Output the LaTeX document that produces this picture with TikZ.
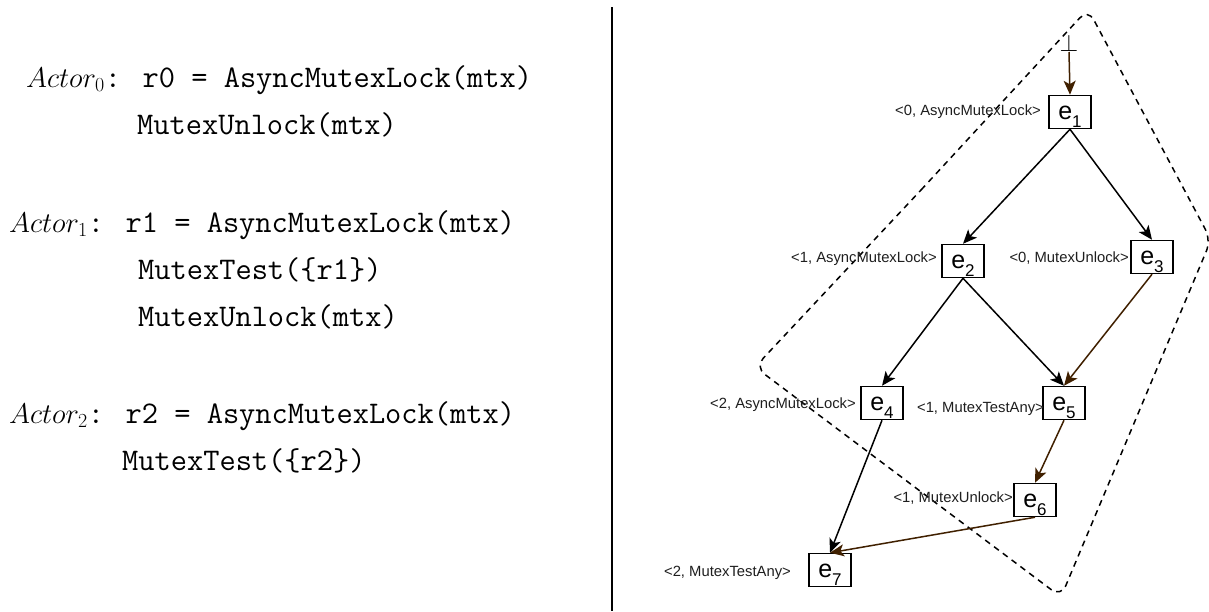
\RequirePackage{fix-cm}
\documentclass[tikz,border=0pt]{standalone}
\usepackage{fontspec}
\newfontfamily\labfamily{Liberation Sans}
\usetikzlibrary{arrows.meta}
\definecolor{brownc}{RGB}{64,32,0}
\definecolor{labc}{RGB}{30,30,30}
\newcommand\codefont{\fontsize{31.5}{38}\selectfont}
\newcommand\actorname[1]{{\fontsize{28.5}{38}\selectfont$Actor_{#1}$}}
\newcommand\labfont{\labfamily\fontsize{14.8}{16}\selectfont}
\newcommand\evfont{\labfamily\fontsize{25}{25}\selectfont}
\newcommand\evtext[1]{e\raisebox{-8pt}{\fontsize{17}{17}\selectfont #1}}
\begin{document}
\begin{tikzpicture}[x=1pt,y=-1pt,
  ev/.style={draw=black, line width=1.5pt, fill=white, minimum width=42pt,
    minimum height=33pt, inner sep=0pt, text height=22pt, text depth=8pt, font=\evfont},
  lab/.style={font=\labfont, inner sep=0pt, anchor=base east, text=labc},
  code/.style={inner sep=0pt, anchor=base west, font=\codefont},
  arr/.style={-{Stealth[length=14pt,width=12pt,inset=3.5pt]}, line width=1.5pt, draw=black},
  brarr/.style={arr, draw=brownc},
  hullline/.style={draw=black, line width=1.5pt, dash pattern=on 6pt off 5pt, rounded corners=12pt},
  divline/.style={draw=black, line width=2.5pt}]
\useasboundingbox (0,0) rectangle (1209,611);

% left code text
\node[code] (t1) at (26,87) {\actorname{0}\texttt{: r0 = AsyncMutexLock(mtx)}};
\node[code] (t2) at (137,134) {\texttt{MutexUnlock(mtx)}};
\node[code] (t3) at (9,232) {\actorname{1}\texttt{: r1 = AsyncMutexLock(mtx)}};
\node[code] (t4) at (138,279) {\texttt{MutexTest(\{r1\})}};
\node[code] (t5) at (138,326) {\texttt{MutexUnlock(mtx)}};
\node[code] (t6) at (9,423) {\actorname{2}\texttt{: r2 = AsyncMutexLock(mtx)}};
\node[code] (t7) at (122,470) {\texttt{MutexTest(\{r2\})}};

% divider
\coordinate (dtop) at (612,7);
\coordinate (dbot) at (612,611);
\draw[divline] (dtop) -- (dbot);

% hull
\coordinate (hs) at (921,190);
\coordinate (htop) at (1088,9);
\coordinate (hright) at (1211,240);
\coordinate (hbottom) at (1061,597);
\coordinate (hleft) at (755,367);
\draw[hullline] (hs) -- (htop) -- (hright) -- (hbottom) -- (hleft) -- (hs);

% events
\node[ev] (e1) at (1070,112) {\evtext{1}};
\node[ev] (e2) at (963,261) {\evtext{2}};
\node[ev] (e3) at (1152,257) {\evtext{3}};
\node[ev] (e4) at (882,403) {\evtext{4}};
\node[ev] (e5) at (1064,403) {\evtext{5}};
\node[ev] (e6) at (1035,500) {\evtext{6}};
\node[ev] (e7) at (830,570) {\evtext{7}};

\node[inner sep=0pt, anchor=south, font=\fontsize{24}{24}\selectfont] (bot) at (1069,52) {$\bot$};

% labels
\node[lab] (l1) at (1041,115) {<0, AsyncMutexLock>};
\node[lab] (l2) at (937,262) {<1, AsyncMutexLock>};
\node[lab] (l3) at (1129,262) {<0, MutexUnlock>};
\node[lab] (l4) at (856,408) {<2, AsyncMutexLock>};
\node[lab] (l5) at (1044,412) {<1, MutexTestAny>};
\node[lab] (l6) at (1013,502) {<1, MutexUnlock>};
\node[lab] (l7) at (791,576) {<2, MutexTestAny>};

% edges
\draw[brarr] (bot.south) -- (e1.north);
\draw[arr] (e1.south) -- (e2.north);
\draw[arr] (e1.south) -- (e3.north);
\draw[arr] (e2.south) -- (e4.north);
\draw[arr] (e2.south) -- (e5.north);
\draw[brarr] (e3.south) -- (e5.north);
\draw[arr] (e4.south) -- (e7.north);
\draw[brarr] (e5.south) -- (e6.north);
\draw[brarr] (e6.south) -- (e7.north);
\end{tikzpicture}
\end{document}
